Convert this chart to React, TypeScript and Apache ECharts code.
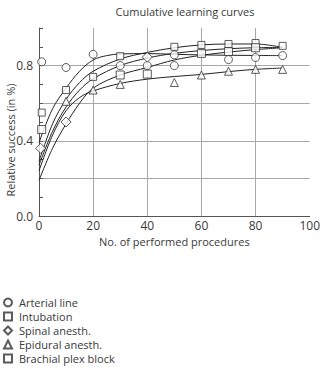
import React, { useEffect, useRef } from "react";
import * as echarts from "echarts";

const title = "Cumulative learning curves";
const xName = "No. of performed procedures";
const yName = "Relative success (in %)";
const yLabelsShown = ["0.0", "0.4", "0.8"];

// observed points [procedures, relative success]
const arterialPts = [[1, 0.82], [10, 0.79], [20, 0.86], [30, 0.80], [40, 0.80], [50, 0.80], [50, 0.857], [70, 0.832], [80, 0.843], [90, 0.853]];
const intubationPts = [[1, 0.55], [10, 0.67], [20, 0.74], [30, 0.85], [50, 0.90], [60, 0.91], [70, 0.915], [80, 0.92], [90, 0.905]];
const spinalPts = [[0.6, 0.36], [10, 0.50], [40, 0.845]];
const epiduralPts = [[10, 0.61], [20, 0.67], [30, 0.70], [50, 0.71], [60, 0.75], [70, 0.77], [80, 0.78], [90, 0.78]];
const brachialPts = [[1, 0.46], [30, 0.75], [40, 0.755], [60, 0.865], [70, 0.875], [80, 0.895]];

// fitted curves
const arterialCurve = [[0, 0.39], [5, 0.57], [10, 0.68], [15, 0.77], [20, 0.83], [25, 0.853], [30, 0.862], [40, 0.864], [50, 0.86], [60, 0.857], [70, 0.855], [80, 0.854], [90, 0.853]];
const intubationCurve = [[0, 0.29], [5, 0.49], [10, 0.62], [15, 0.71], [20, 0.77], [30, 0.835], [40, 0.87], [50, 0.895], [60, 0.91], [70, 0.915], [80, 0.915], [90, 0.897]];
const spinalCurve = [[0, 0.27], [5, 0.45], [10, 0.58], [15, 0.67], [20, 0.73], [30, 0.80], [40, 0.84], [50, 0.865], [60, 0.88], [70, 0.89], [80, 0.895], [90, 0.897]];
const epiduralCurve = [[0, 0.24], [5, 0.43], [10, 0.56], [15, 0.63], [20, 0.665], [30, 0.705], [40, 0.728], [50, 0.742], [60, 0.753], [70, 0.768], [80, 0.78], [90, 0.787]];
const brachialCurve = [[0, 0.19], [5, 0.36], [10, 0.49], [15, 0.60], [20, 0.68], [30, 0.75], [40, 0.79], [50, 0.83], [60, 0.855], [70, 0.872], [80, 0.885], [90, 0.895]];

const names = ["Arterial line", "Intubation", "Spinal anesth.", "Epidural anesth.", "Brachial plex block"];

const FONT = "Open Sans";
const TXT = "#3a3a3a";

export default function App() {
  const ref = useRef<HTMLDivElement>(null);
  useEffect(() => {
    if (!ref.current) return;
    const chart = echarts.init(ref.current, undefined, { renderer: "svg" });
    const hollow = { color: "#fff", borderColor: "#333", borderWidth: 1 };
    const scatter = (name: string, data: number[][], symbol: string, size: number) => ({
      name, type: "scatter", data, symbol, symbolSize: size, itemStyle: hollow, z: 3,
    });
    const curve = (data: number[][]) => ({
      type: "line", data, smooth: 0.35, showSymbol: false, symbol: "none",
      lineStyle: { color: "#222", width: 1 }, z: 2, silent: true,
    });
    chart.setOption({
      animation: false,
      textStyle: { fontFamily: FONT },
      title: {
        text: title, left: 180, top: 1, textAlign: "center",
        textStyle: { fontSize: 11, fontWeight: "normal", color: TXT, fontFamily: FONT },
      },
      grid: { left: 39, right: 10, top: 28, bottom: 153, containLabel: false },
      xAxis: {
        type: "value", min: 0, max: 100, interval: 20,
        name: xName, nameLocation: "middle", nameGap: 15,
        nameTextStyle: { fontSize: 11, color: TXT, fontFamily: FONT },
        axisLine: { lineStyle: { color: "#555", width: 1 } },
        axisTick: { show: false },
        axisLabel: { fontSize: 12, color: TXT, margin: 3, fontFamily: FONT },
        splitLine: { show: true, lineStyle: { color: ["transparent", "#a8a8a8", "#a8a8a8", "#a8a8a8", "#a8a8a8", "transparent"], width: 1 } },
      },
      yAxis: {
        type: "value", min: 0, max: 1, interval: 0.2,
        axisLine: { show: true, lineStyle: { color: "#555", width: 1 } },
        axisTick: { show: true, inside: true, length: 4, lineStyle: { color: "#555" } },
        minorTick: { show: true, splitNumber: 2, length: 4, lineStyle: { color: "#555" } },
        axisLabel: {
          fontSize: 12, color: TXT, margin: 6, fontFamily: FONT,
          formatter: (v: number) => {
            const s = v.toFixed(1);
            return yLabelsShown.includes(s) ? s : "";
          },
        },
        splitLine: { show: true, lineStyle: { color: ["transparent", "#a8a8a8", "#a8a8a8", "#a8a8a8", "#a8a8a8", "transparent"], width: 1 } },
      },
      legend: {
        data: names, orient: "vertical", left: 3, top: 296, height: 73,
        itemWidth: 8, itemHeight: 8, itemGap: 1, padding: 0,
        textStyle: { fontSize: 11, lineHeight: 13, color: TXT, fontFamily: FONT, padding: [0, 0, 0, 2] },
      },
      graphic: [
        {
          type: "text", x: 10, y: 140, rotation: Math.PI / 2,
          style: { text: yName, fontSize: 11, fill: TXT, fontFamily: FONT, textAlign: "center", textVerticalAlign: "middle" },
        },
      ],
      series: [
        curve(arterialCurve), curve(intubationCurve), curve(spinalCurve), curve(epiduralCurve), curve(brachialCurve),
        scatter(names[0], arterialPts, "circle", 8),
        scatter(names[1], intubationPts, "rect", 7),
        scatter(names[2], spinalPts, "diamond", 10),
        scatter(names[3], epiduralPts, "triangle", 8),
        scatter(names[4], brachialPts, "rect", 8),
      ],
    });
    return () => chart.dispose();
  }, []);
  return <div ref={ref} style={{ width: 323, height: 369, position: "absolute", left: 0, top: 0 }} />;
}
